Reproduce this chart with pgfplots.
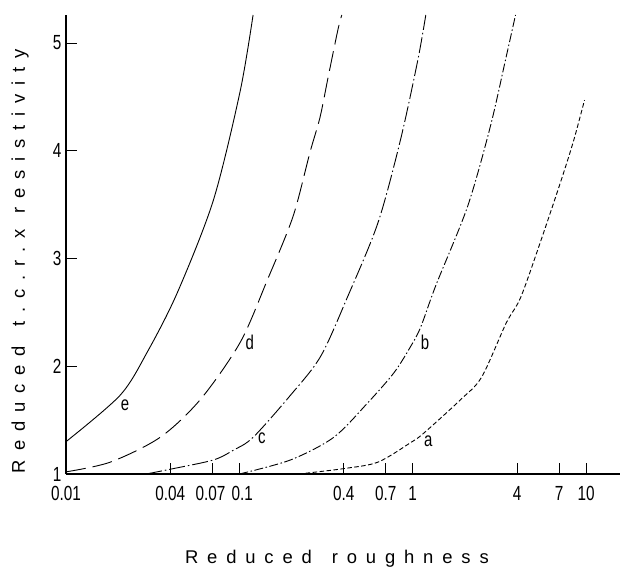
\documentclass[border=0pt]{standalone}
\usepackage{fontspec}
\setmainfont{Liberation Sans}
\newfontfamily\ticksfont[FakeStretch=0.75]{Liberation Sans}
\newfontfamily\spacedfont[LetterSpace=48]{Liberation Sans}
\usepackage{pgfplots}
\pgfplotsset{compat=1.18}

\begin{document}
\begin{tikzpicture}
\useasboundingbox (0,0) rectangle (622bp,568bp);
\begin{axis}[
  at={(66bp,94bp)}, anchor=south west,
  scale only axis,
  width=554bp, height=459bp,
  xmode=log,
  xmin=0.01, xmax=15.7,
  ymin=1, ymax=5.26,
  axis x line=bottom, axis y line=left,
  axis line style={-, line width=1.5bp, black},
  tick align=inside,
  major tick length=11bp,
  tick style={line width=0.9bp, black},
  xtick={0.01,0.04,0.07,0.1,0.4,0.7,1,4,7,10},
  xticklabels={0.01,0.04,{\makebox[0pt]{0.07\hspace{4bp}}},
    {\makebox[0pt]{\hspace{6bp}0.1}},0.4,0.7,1,4,7,10},
  minor xtick={},
  ytick={1,2,3,4,5},
  yticklabels={1,2,3,4,5},
  xticklabel style={font=\ticksfont\fontsize{20.5}{24}\selectfont, yshift=-9bp},
  yticklabel style={font=\ticksfont\fontsize{20.5}{24}\selectfont, xshift=-1bp},
  xlabel={Reduced\hspace{20bp}roughness},
  ylabel={Reduced\hspace{20bp}t.c.r.x\kern 16bp resistivity},
  xlabel style={font=\spacedfont\fontsize{18.5}{22}\selectfont,
    at={(axis description cs:0.489,-0.194)}, anchor=base},
  ylabel style={font=\spacedfont\fontsize{18.5}{22}\selectfont,
    at={(axis description cs:-0.074,0.464)}, anchor=base, rotate=0},
  clip=true,
]
% curve e
\addplot[black, line width=0.9bp, smooth, tension=0.5] coordinates {
  (0.01,1.30) (0.0205,1.73) (0.0294,2.13) (0.0438,2.68)
  (0.0708,3.54) (0.101,4.55) (0.12,5.26)};
% curve d
\addplot[black, line width=0.9bp, smooth, tension=0.5,
  dash pattern=on 20bp off 7bp] coordinates {(0.01,1.02) (0.018,1.11)
  (0.0349,1.34) (0.0595,1.69) (0.101,2.22) (0.145,2.80) (0.204,3.39)
  (0.255,3.98) (0.292,4.31) (0.325,4.68) (0.37,5.12) (0.39,5.26)};
% curve c
\addplot[black, line width=0.9bp, smooth, tension=0.5,
  dash pattern=on 16bp off 3bp on 1.5bp off 3bp] coordinates {
  (0.029,1.0) (0.0416,1.05) (0.0708,1.13) (0.0922,1.22) (0.12,1.34)
  (0.197,1.73) (0.294,2.09) (0.42,2.64) (0.63,3.33) (0.85,4.10)
  (1.07,4.84) (1.19,5.26)};
% curve b
\addplot[black, line width=0.9bp, smooth, tension=0.5,
  dash pattern=on 9bp off 2.5bp on 1.5bp off 2.5bp] coordinates {
  (0.1,1.0) (0.197,1.13) (0.35,1.34) (0.55,1.66) (0.78,1.94) (0.97,2.18)
  (1.11,2.36) (1.36,2.75) (2.07,3.48) (2.8,4.22) (3.46,4.87) (3.92,5.26)};
% curve a
\addplot[black, line width=0.9bp, smooth, tension=0.5,
  dash pattern=on 4.5bp off 2.5bp] coordinates {
  (0.22,1.0) (0.40,1.05) (0.63,1.11) (0.97,1.29) (1.16,1.38) (1.89,1.69)
  (2.5,1.90) (3.46,2.40) (4.2,2.64) (5.5,3.17) (7.2,3.73) (8.5,4.10)
  (9.8,4.47)};

\begin{scope}[every node/.style={font=\ticksfont\fontsize{20}{22}\selectfont}]
\node at (axis cs:0.0219,1.64) {e};
\node at (axis cs:0.115,2.22) {d};
\node at (axis cs:0.135,1.33) {c};
\node at (axis cs:1.18,2.22) {b};
\node at (axis cs:1.23,1.30) {a};
\end{scope}
\end{axis}
\end{tikzpicture}
\end{document}
